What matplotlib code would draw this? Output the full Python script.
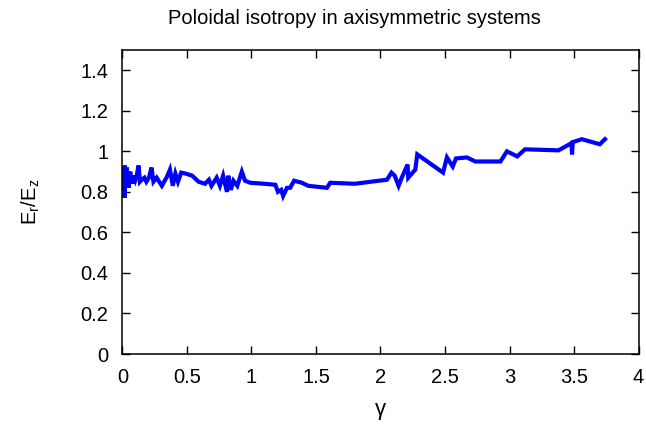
import matplotlib
matplotlib.use("Agg")
import matplotlib.pyplot as plt

plt.rcParams['font.family'] = ['Liberation Sans', 'DejaVu Sans']
plt.rcParams['mathtext.fontset'] = 'custom'
plt.rcParams['mathtext.rm'] = 'Liberation Sans'
plt.rcParams['mathtext.it'] = 'Liberation Sans'

title = "Poloidal isotropy in axisymmetric systems"
xlabel = "γ"
ylabel = r"$\mathrm{E_r/E_z}$"

gamma = [0.000, 0.003, 0.006, 0.009, 0.012, 0.015, 0.018, 0.022, 0.026, 0.030,
         0.034, 0.038, 0.042, 0.046, 0.050, 0.055, 0.060, 0.068, 0.075, 0.082,
         0.090, 0.100, 0.110, 0.125, 0.135, 0.150, 0.170, 0.185, 0.205, 0.225,
         0.240, 0.265, 0.305, 0.345, 0.368, 0.390, 0.41, 0.43, 0.455, 0.49,
         0.54, 0.59, 0.64, 0.67, 0.69, 0.73, 0.755, 0.78, 0.81, 0.82,
         0.84, 0.86, 0.89, 0.925, 0.95, 0.99, 1.10, 1.185, 1.205, 1.23,
         1.245, 1.275, 1.30, 1.33, 1.39, 1.44, 1.585, 1.61, 1.80, 2.05,
         2.085, 2.11, 2.14, 2.165, 2.21, 2.215, 2.27, 2.285, 2.485, 2.515,
         2.56, 2.585, 2.67, 2.735, 2.93, 2.98, 3.06, 3.12, 3.38, 3.48,
         3.485, 3.49, 3.56, 3.70, 3.74]
ratio = [0.88, 0.78, 0.92, 0.80, 0.90, 0.77, 0.93, 0.82, 0.91, 0.83,
         0.92, 0.84, 0.90, 0.82, 0.88, 0.84, 0.90, 0.85, 0.88, 0.84,
         0.88, 0.86, 0.88, 0.93, 0.85, 0.86, 0.87, 0.85, 0.87, 0.92,
         0.85, 0.87, 0.83, 0.875, 0.91, 0.83, 0.89, 0.85, 0.895, 0.89,
         0.88, 0.85, 0.84, 0.86, 0.83, 0.87, 0.83, 0.88, 0.80, 0.88,
         0.81, 0.855, 0.83, 0.90, 0.855, 0.845, 0.84, 0.835, 0.80, 0.81,
         0.78, 0.82, 0.82, 0.855, 0.845, 0.83, 0.82, 0.845, 0.84, 0.86,
         0.895, 0.88, 0.83, 0.87, 0.935, 0.87, 0.91, 0.985, 0.895, 0.97,
         0.925, 0.965, 0.97, 0.95, 0.95, 1.0, 0.975, 1.01, 1.005, 1.04,
         0.985, 1.045, 1.06, 1.035, 1.06]

xticks = [0, 0.5, 1, 1.5, 2, 2.5, 3, 3.5, 4]
xticklabels = ["0", "0.5", "1", "1.5", "2", "2.5", "3", "3.5", "4"]
yticks = [0, 0.2, 0.4, 0.6, 0.8, 1.0, 1.2, 1.4]
yticklabels = ["0", "0.2", "0.4", "0.6", "0.8", "1", "1.2", "1.4"]

fs = 14.5
fig = plt.figure(figsize=(6.46, 4.30), dpi=100)
ax = fig.add_axes([0.1896, 0.1767, 0.7988, 0.707])
ax.plot(gamma, ratio, color='#0000ff', lw=3.0, solid_joinstyle='miter')
ax.set_xlim(0, 4)
ax.set_ylim(0, 1.5)
ax.set_xticks(xticks)
ax.set_xticklabels(xticklabels)
ax.set_yticks(yticks)
ax.set_yticklabels(yticklabels)
ax.tick_params(direction='in', top=True, right=True, length=6, width=1.0,
               labelsize=fs)
ax.tick_params(axis='x', pad=10)
ax.tick_params(axis='y', pad=10)
for s in ax.spines.values():
    s.set_linewidth(1.1)
ax.set_xlabel(xlabel, fontsize=16, labelpad=9)
ax.set_ylabel(ylabel, fontsize=fs, labelpad=28)
fig.text(0.548, 0.958, title, fontsize=fs, ha='center', va='center')
fig.savefig("out.png", dpi=100)
